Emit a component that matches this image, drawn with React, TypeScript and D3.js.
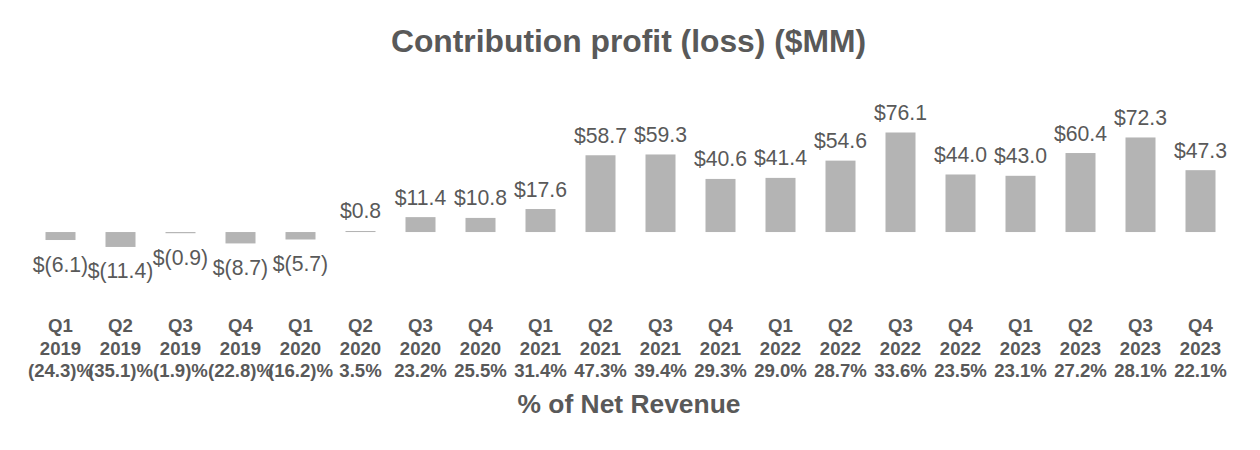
import React from "react";
import * as d3 from "d3";

const quarters = ["Q1","Q2","Q3","Q4","Q1","Q2","Q3","Q4","Q1","Q2","Q3","Q4","Q1","Q2","Q3","Q4","Q1","Q2","Q3","Q4"];
const years = ["2019","2019","2019","2019","2020","2020","2020","2020","2021","2021","2021","2021","2022","2022","2022","2022","2023","2023","2023","2023"];
const profit = [-6.1,-11.4,-0.9,-8.7,-5.7,0.8,11.4,10.8,17.6,58.7,59.3,40.6,41.4,54.6,76.1,44.0,43.0,60.4,72.3,47.3];
const pctRevenue = ["(24.3)%","(35.1)%","(1.9)%","(22.8)%","(16.2)%","3.5%","23.2%","25.5%","31.4%","47.3%","39.4%","29.3%","29.0%","28.7%","33.6%","23.5%","23.1%","27.2%","28.1%","22.1%"];

const W = 1260, H = 450;
const TEXT = "#595959";
const BAR = "#b4b4b4";
const FONT = "Arial, 'Liberation Sans', sans-serif";

function fmt(v: number) {
  const s = Math.abs(v).toFixed(1);
  return v < 0 ? `$(${s})` : `$${s}`;
}

export default function App() {
  const idx = profit.map((_, i) => String(i));
  const x = d3.scaleBand<string>().domain(idx).range([30.5, 1230.5]).paddingInner(0.5).paddingOuter(0.25);
  const y = d3.scaleLinear().domain([-20, 80]).range([258.2, 127.4]);
  const y0 = y(0);

  return (
    <svg width={W} height={H} style={{ position: "absolute", left: 0, top: 0, background: "#fff" }} fontFamily={FONT}>
      <text x={628.5} y={52} textAnchor="middle" fontSize={31.8} fontWeight="bold" fill={TEXT}>
        Contribution profit (loss) ($MM)
      </text>
      {profit.map((v, i) => {
        const xi = x(String(i))!;
        const cx = xi + x.bandwidth() / 2;
        const top = Math.min(y(v), y0);
        const h = Math.abs(y(v) - y0);
        const labelY = v >= 0 ? y(v) - 12.5 : y(v) + 31.5;
        return (
          <g key={i}>
            <rect x={xi} y={top} width={x.bandwidth()} height={Math.max(h, 1)} fill={BAR} />
            <text x={cx} y={labelY} textAnchor="middle" fontSize={21.2} fill={TEXT}>{fmt(v)}</text>
            <text x={cx} y={332} textAnchor="middle" fontSize={18.6} fontWeight="bold" fill={TEXT}>{quarters[i]}</text>
            <text x={cx} y={354.5} textAnchor="middle" fontSize={18.6} fontWeight="bold" fill={TEXT}>{years[i]}</text>
            <text x={cx} y={377} textAnchor="middle" fontSize={18.6} fontWeight="bold" fill={TEXT}>{pctRevenue[i]}</text>
          </g>
        );
      })}
      <text x={629} y={413} textAnchor="middle" fontSize={26.4} fontWeight="bold" fill={TEXT}>% of Net Revenue</text>
    </svg>
  );
}
